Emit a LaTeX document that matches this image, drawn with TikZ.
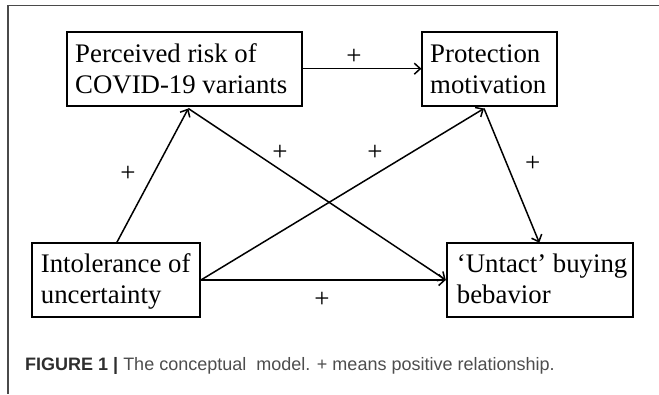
\documentclass[tikz,border=0pt]{standalone}
\usepackage{fontspec}
\setmainfont{Liberation Serif}
\newfontfamily\capfont{Liberation Sans}
\usetikzlibrary{arrows.meta}
\definecolor{framegray}{HTML}{4A4A4A}
\definecolor{capgray}{HTML}{4D4D4D}
\definecolor{capdark}{HTML}{2E2E2E}
\begin{document}
\begin{tikzpicture}[x=1pt,y=-1pt,
  boxnode/.style={draw=black,line width=1.8pt,rectangle,inner sep=0pt},
  txt/.style={anchor=base west,inner sep=0pt,font=\fontsize{26.8}{31}\selectfont},
  plus/.style={inner sep=0pt,font=\fontsize{27}{31}\selectfont},
  arr/.style={line width=1.5pt,-{Straight Barb[length=6pt,width=11pt,line width=1.5pt]}}]
\useasboundingbox (0,0) rectangle (659,394);
% frame
\draw[framegray,line width=1.5pt] (659,5.7) -- (8,5.7) -- (8,394);
% boxes
\node[boxnode,minimum width=235pt,minimum height=74pt] (b1) at (184.2,68.7) {};
\node[boxnode,minimum width=134.4pt,minimum height=74pt] (b2) at (489.5,68.7) {};
\node[boxnode,minimum width=167.7pt,minimum height=74.6pt] (b3) at (116.2,280) {};
\node[boxnode,minimum width=186.6pt,minimum height=74.6pt] (b4) at (540,280) {};
% texts
\node[txt] (t1a) at (75,62) {Perceived risk of};
\node[txt] (t1b) at (75,93) {COVID-19 variants};
\node[txt] (t2a) at (430,62) {Protection};
\node[txt] (t2b) at (430,93) {motivation};
\node[txt] (t3a) at (40.7,272.5) {Intolerance of};
\node[txt] (t3b) at (40.7,303) {uncertainty};
\node[txt] (t4a) at (456.7,272.5) {`Untact' buying};
\node[txt] (t4b) at (456.7,303) {bebavior};
% attachment points
\coordinate (p1s) at (188.3,108.5);
\coordinate (p2s) at (484,108.5);
\coordinate (p3n) at (116.7,242.7);
\coordinate (p4n) at (539.3,242.7);
% connectors
\draw[arr] (b1.east) -- (b2.west);
\draw[arr] (p3n) -- (p1s);
\draw[arr] (p1s) -- (b4.west);
\draw[arr] (b3.east) -- (p2s);
\draw[arr] (p2s) -- (p4n);
\draw[arr] (b3.east) -- (b4.west);
% labels
\node[plus] (l1) at (354,56.5) {+};
\node[plus] (l2) at (128,174) {+};
\node[plus] (l3) at (280,153) {+};
\node[plus] (l4) at (375,153) {+};
\node[plus] (l5) at (532.7,164) {+};
\node[plus] (l6) at (322,300) {+};
% caption
\node[anchor=base west,inner sep=0pt,font=\capfont\fontsize{18}{21}\selectfont] (cap) at (25,370)
  {\textcolor{capdark}{\bfseries FIGURE 1 |} \textcolor{capgray}{The conceptual\ \ model. + means positive relationship.}};
\end{tikzpicture}
\end{document}
